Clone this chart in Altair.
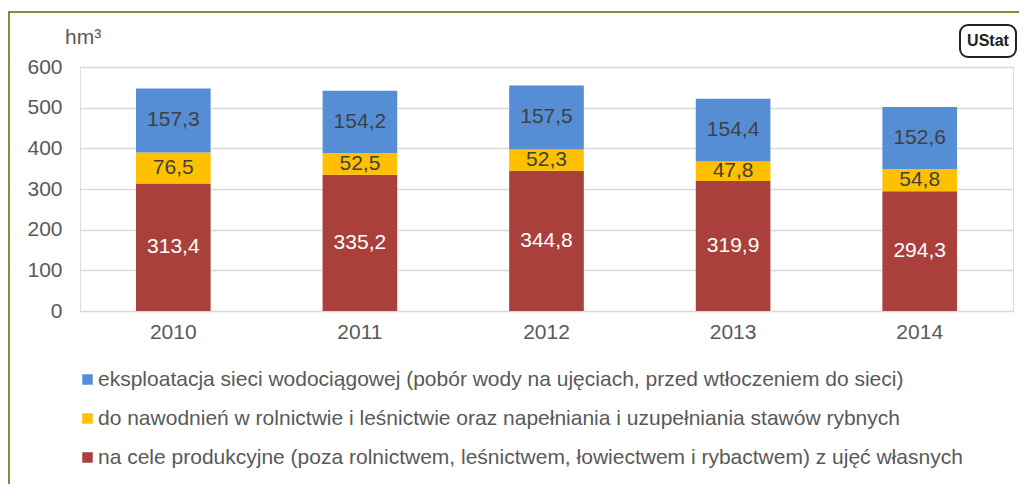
import altair as alt
import pandas as pd

years = ["2010", "2011", "2012", "2013", "2014"]
series = [
    "na cele produkcyjne (poza rolnictwem, leśnictwem, łowiectwem i rybactwem) z ujęć własnych",
    "do nawodnień w rolnictwie i leśnictwie oraz napełniania i uzupełniania stawów rybnych",
    "eksploatacja sieci wodociągowej (pobór wody na ujęciach, przed wtłoczeniem do sieci)",
]
produkcyjne = [313.4, 335.2, 344.8, 319.9, 294.3]
nawodnienia = [76.5, 52.5, 52.3, 47.8, 54.8]
wodociagi = [157.3, 154.2, 157.5, 154.4, 152.6]
colors = ["#A9403C", "#FFC000", "#558ED5"]
text_colors = ["#FFFFFF", "#404040", "#404040"]

rows = []
for i, y in enumerate(years):
    for k, vals in enumerate([produkcyjne, nawodnienia, wodociagi]):
        rows.append({"rok": y, "seria": series[k], "ord": k, "v": vals[i],
                     "tc": text_colors[k]})
df = pd.DataFrame(rows)

W, H = 933, 244
FONT = "Liberation Sans"
FS = 21

base = alt.Chart(df).transform_stack(
    stack="v", groupby=["rok"], as_=["y0", "y1"], sort=[alt.SortField("ord", "ascending")]
).transform_calculate(
    mid="(datum.y0 + datum.y1) / 2",
    lab="replace(format(datum.v, '.1f'), '.', ',')",
)

xenc = alt.X("rok:N", title=None, sort=years,
             scale=alt.Scale(paddingInner=0.6, paddingOuter=0.3),
             axis=alt.Axis(labelAngle=0, labelFontSize=FS, labelColor="#595959",
                           labelFont=FONT, domain=False, ticks=False, labelPadding=10,
                           grid=False))
yscale = alt.Scale(domain=[0, 600])

bars = base.mark_bar().encode(
    x=xenc,
    y=alt.Y("y0:Q", scale=yscale, title=None,
            axis=alt.Axis(values=[0, 100, 200, 300, 400, 500, 600], labelFontSize=FS,
                          labelColor="#595959", labelFont=FONT, domain=False, ticks=False,
                          labelPadding=18, grid=True, gridColor="#D9D9D9", gridWidth=1.5)),
    y2="y1:Q",
    color=alt.Color("seria:N", scale=alt.Scale(domain=series, range=colors),
                    legend=alt.Legend(orient="none", legendX=-3, legendY=302, title=None,
                                      values=[series[2], series[1], series[0]],
                                      symbolType="square", symbolSize=110,
                                      symbolStrokeWidth=0, labelFontSize=FS,
                                      labelFont=FONT, labelColor="#595959",
                                      rowPadding=17, labelLimit=1000, symbolOffset=0,
                                      labelOffset=0)),
)

labels = base.mark_text(fontSize=FS, font=FONT).encode(
    x=alt.X("rok:N", sort=years),
    y=alt.Y("mid:Q", scale=yscale),
    text="lab:N",
    color=alt.Color("tc:N", scale=None),
)

deco = pd.DataFrame({"d": [0]})
border = alt.Chart(deco).mark_rect(fill=None, stroke="#77933C", strokeWidth=2).encode(
    x=alt.value(-71), x2=alt.value(941), y=alt.value(-55), y2=alt.value(430))
unit = alt.Chart(deco).mark_text(text="hm³", fontSize=FS, font=FONT, color="#595959",
                                 align="left").encode(x=alt.value(-15), y=alt.value(-29))
logo_box = alt.Chart(deco).mark_rect(fill="white", stroke="#222222", strokeWidth=2,
                                     cornerRadius=8).encode(
    x=alt.value(880), x2=alt.value(936), y=alt.value(-42), y2=alt.value(-10))
logo_txt = alt.Chart(deco).mark_text(text="UStat", fontSize=16, font=FONT,
                                     fontWeight="bold", color="#222222").encode(
    x=alt.value(908), y=alt.value(-26))

chart = alt.layer(border, bars, labels, unit, logo_box, logo_txt).properties(
    width=W, height=H,
    autosize=alt.AutoSizeParams(type="none"),
    padding={"left": 72, "top": 59, "right": 6, "bottom": 173},
).configure_view(stroke=None).configure(background="white")

chart.save("out.html", embed_options={"renderer": "svg", "actions": False})
